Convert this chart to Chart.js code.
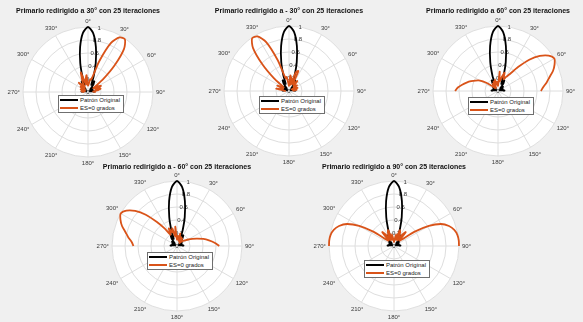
<!DOCTYPE html>
<html>
<head>
<meta charset="utf-8">
<script src="https://cdn.jsdelivr.net/npm/chart.js@4.4.1/dist/chart.umd.min.js"></script>
<style>
  html, body { margin: 0; padding: 0; background: #f0f0f0; }
  #wrap { position: relative; width: 583px; height: 322px; overflow: hidden; font-family: "Liberation Sans", Arial, sans-serif; }
  canvas { position: absolute; left: 0; top: 0; }
  .title { position: absolute; font-weight: bold; font-size: 7px; line-height: 8px; color: #111; white-space: nowrap; transform: translateX(-50%); }
  .legend { position: absolute; background: #fff; border: 1px solid #6f6f6f; padding: 0 3px 0 1px; font-size: 6px; line-height: 8px; color: #222; white-space: nowrap; }
  .legend .row { display: flex; align-items: center; height: 8px; }
  .legend .ln { display: inline-block; width: 18px; height: 2px; margin-right: 2px; }
</style>
</head>
<body>
<div id="wrap"></div>
<script>
const W = 583, H = 322;

// pattern is sampled from -90° to 90°, every 5°
const thetaDeg = [-90, -85, -80, -75, -70, -65, -60, -55, -50, -45, -40, -35, -30, -25, -20, -15, -10, -5,
  0, 5, 10, 15, 20, 25, 30, 35, 40, 45, 50, 55, 60, 65, 70, 75, 80, 85, 90];
const thetaTickLabels = ["0°", "30°", "60°", "90°", "120°", "150°", "180°", "210°", "240°", "270°", "300°", "330°"];
const rTicks = [0, 0.2, 0.4, 0.6, 0.8, 1];
const rTickLabels = ["0", "0.2", "0.4", "0.6", "0.8", "1"];

const titles = [
  "Primario redirigido a 30° con 25 iteraciones",
  "Primario redirigido a - 30° con 25 iteraciones",
  "Primario redirigido a 60° con 25 iteraciones",
  "Primario redirigido a - 60° con 25 iteraciones",
  "Primario redirigido a 90° con 25 iteraciones"
];
const legendLabels = ["Patrón Original", "ES=0 grados"];

const original = [0.08, 0.1, 0.05, 0.04, 0.08, 0.06, 0.03, 0.07, 0.1, 0.05, 0.06, 0.15, 0.19, 0.12, 0.25, 0.46, 0.7, 0.91,
  1, 0.91, 0.7, 0.46, 0.25, 0.12, 0.19, 0.15, 0.06, 0.05, 0.1, 0.07, 0.03, 0.06, 0.08, 0.04, 0.05, 0.1, 0.08];
const es30 = [0.06, 0.1, 0.05, 0.08, 0.12, 0.05, 0.1, 0.14, 0.06, 0.2, 0.14, 0.08, 0.15, 0.22, 0.32, 0.12, 0.2, 0.26,
  0.1, 0.12, 0.2, 0.2, 0.5, 0.83, 0.97, 0.99, 0.86, 0.58, 0.3, 0.1, 0.18, 0.22, 0.12, 0.2, 0.16, 0.08, 0.12];
const esM30 = [0.05, 0.08, 0.2, 0.1, 0.1, 0.2, 0.1, 0.1, 0.3, 0.58, 0.86, 0.99, 0.97, 0.83, 0.5, 0.2, 0.22, 0.12,
  0.08, 0.24, 0.2, 0.1, 0.3, 0.34, 0.12, 0.15, 0.2, 0.1, 0.12, 0.15, 0.05, 0.1, 0.14, 0.06, 0.12, 0.08, 0.06];
const es60 = [0.66, 0.62, 0.56, 0.5, 0.44, 0.38, 0.32, 0.22, 0.12, 0.06, 0.1, 0.14, 0.06, 0.16, 0.1, 0.18, 0.1, 0.14,
  0.08, 0.3, 0.15, 0.22, 0.3, 0.2, 0.25, 0.32, 0.48, 0.68, 0.84, 0.95, 1, 0.96, 0.9, 0.82, 0.76, 0.7, 0.66];
const esM60 = [0.67, 0.7, 0.76, 0.82, 0.9, 0.96, 1, 0.95, 0.84, 0.68, 0.48, 0.32, 0.2, 0.3, 0.22, 0.28, 0.15, 0.3,
  0.1, 0.16, 0.1, 0.2, 0.08, 0.15, 0.1, 0.14, 0.06, 0.1, 0.12, 0.15, 0.2, 0.26, 0.33, 0.42, 0.5, 0.58, 0.65];
const es90 = [1, 1, 0.99, 0.96, 0.9, 0.8, 0.62, 0.38, 0.15, 0.12, 0.28, 0.2, 0.1, 0.22, 0.26, 0.1, 0.18, 0.1,
  0.06, 0.1, 0.18, 0.1, 0.26, 0.22, 0.1, 0.2, 0.28, 0.12, 0.15, 0.38, 0.62, 0.8, 0.9, 0.96, 0.99, 1, 1];

const R = 65;
const panels = [
  { cx: 88, cy: 92, legTop: 95, series: es30 },
  { cx: 289, cy: 91, legTop: 96, series: esM30 },
  { cx: 498, cy: 91, legTop: 97, series: es60 },
  { cx: 177, cy: 246, legTop: 252, series: esM60 },
  { cx: 394, cy: 246, legTop: 260, series: es90 }
];

const STEP = 5;
const labels = [];
for (let a = 0; a < 360; a += STEP) labels.push(a);

// put the -90..90 samples onto the full 0..355 circle, the rest stays empty
function toCircle(vals) {
  const out = labels.map(() => null);
  thetaDeg.forEach((t, i) => { out[((t % 360) + 360) % 360 / STEP] = vals[i]; });
  return out;
}

const polarDecor = {
  id: "polarDecor",
  beforeDraw(chart) {
    const s = chart.scales.r, ctx = chart.ctx;
    ctx.save();
    ctx.fillStyle = "#fff";
    ctx.beginPath();
    ctx.arc(s.xCenter, s.yCenter, s.drawingArea, 0, Math.PI * 2);
    ctx.fill();
    ctx.restore();
  },
  beforeDatasetsDraw(chart) {
    const s = chart.scales.r, ctx = chart.ctx;
    ctx.save();
    ctx.font = '6px "Liberation Sans", Arial, sans-serif';
    ctx.fillStyle = "#3a3a3a";
    ctx.textAlign = "center";
    ctx.textBaseline = "middle";
    const per = 30 / STEP;
    thetaTickLabels.forEach((lab, k) => {
      const a = k * 30 * Math.PI / 180;
      const w = ctx.measureText(lab).width;
      const extra = 3 + Math.abs(Math.sin(a)) * w / 2 + Math.abs(Math.cos(a)) * 3;
      const p = s.getPointPosition(k * per, s.drawingArea + extra);
      ctx.fillText(lab, p.x, p.y);
    });
    // radial tick labels sit 10° clockwise from the top
    rTicks.forEach((v, i) => {
      const p = s.getPointPosition(10 / STEP, s.getDistanceFromCenterForValue(v));
      ctx.fillText(rTickLabels[i], p.x, p.y);
    });
    ctx.restore();
  }
};

const wrap = document.getElementById("wrap");
const grid = "#dedede";

panels.forEach((pn, n) => {
  const cv = document.createElement("canvas");
  cv.width = W; cv.height = H;
  wrap.appendChild(cv);

  new Chart(cv.getContext("2d"), {
    type: "radar",
    data: {
      labels,
      datasets: [
        { label: legendLabels[0], data: toCircle(original), borderColor: "#000", order: 2 },
        { label: legendLabels[1], data: toCircle(pn.series), borderColor: "#d95319", order: 1 }
      ]
    },
    options: {
      responsive: false,
      animation: false,
      events: [],
      layout: { padding: { left: pn.cx - R, right: W - pn.cx - R, top: pn.cy - R, bottom: H - pn.cy - R } },
      elements: {
        line: { fill: false, borderWidth: 1.8, tension: 0.25 },
        point: { radius: 0, hoverRadius: 0 }
      },
      spanGaps: false,
      scales: {
        r: {
          min: 0, max: 1,
          ticks: { stepSize: 0.2, display: false },
          grid: { circular: true, color: grid, lineWidth: 1 },
          angleLines: { color: grid, lineWidth: (c) => (c.index % (30 / STEP) === 0 ? 1 : 0) },
          pointLabels: { display: false }
        }
      },
      plugins: { legend: { display: false }, tooltip: { enabled: false }, title: { display: false } }
    },
    plugins: [polarDecor]
  });

  const t = document.createElement("div");
  t.className = "title";
  t.textContent = titles[n];
  t.style.left = pn.cx + "px";
  t.style.top = (pn.cy < 150 ? 7 : 163) + "px";
  wrap.appendChild(t);

  const lg = document.createElement("div");
  lg.className = "legend";
  lg.style.left = (pn.cx - 30) + "px";
  lg.style.top = pn.legTop + "px";
  lg.innerHTML =
    `<div class="row"><span class="ln" style="background:#000"></span>${legendLabels[0]}</div>` +
    `<div class="row"><span class="ln" style="background:#d95319"></span>${legendLabels[1]}</div>`;
  wrap.appendChild(lg);
});
</script>
</body>
</html>
